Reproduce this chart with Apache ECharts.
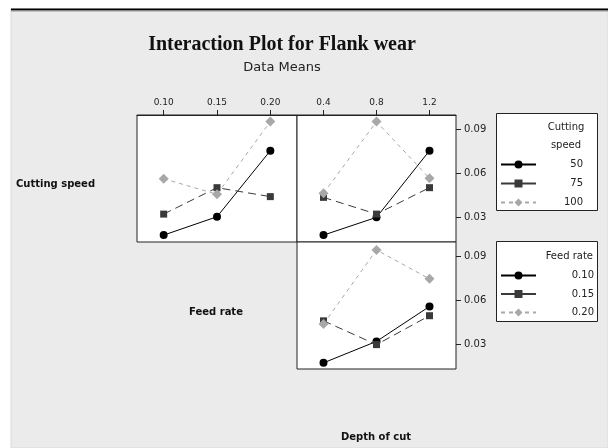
<!DOCTYPE html>
<html>
<head>
<meta charset="utf-8">
<script src="https://cdn.jsdelivr.net/npm/echarts@6/dist/echarts.min.js"></script>
<style>html,body{margin:0;padding:0;background:#fff;}#c{width:608px;height:448px;}</style>
</head>
<body>
<div id="c"></div>
<script>
var feedRates = ['0.10', '0.15', '0.20'];
var depths = ['0.4', '0.8', '1.2'];
var speeds = ['50', '75', '100'];
var yTicks = [0.03, 0.06, 0.09];

// Panel 1: Cutting speed lines vs Feed rate
var speedByFeed50 = [0.0177, 0.0302, 0.0752];
var speedByFeed75 = [0.0320, 0.0500, 0.0439];
var speedByFeed100 = [0.0561, 0.0455, 0.0950];
// Panel 2: Cutting speed lines vs Depth of cut
var speedByDepth50 = [0.0177, 0.0298, 0.0752];
var speedByDepth75 = [0.0434, 0.0320, 0.0500];
var speedByDepth100 = [0.0462, 0.0950, 0.0564];
// Panel 3: Feed rate lines vs Depth of cut
var feedByDepth010 = [0.0172, 0.0318, 0.0556];
var feedByDepth015 = [0.0458, 0.0296, 0.0493];
var feedByDepth020 = [0.0436, 0.0941, 0.0744];

var styles = [
  {symbol: 'circle', symbolSize: 8, color: '#000000', line: {type: 'solid', width: 1}},
  {symbol: 'rect', symbolSize: 7, color: '#3a3a3a', line: {type: [8, 5], width: 1}},
  {symbol: 'diamond', symbolSize: 10, color: '#a8a8a8', line: {type: [4, 4], width: 1}}
];

function mkSeries(name, data, idx, k) {
  var s = styles[k];
  return {
    type: 'line', name: name, data: data, xAxisIndex: idx, yAxisIndex: idx,
    symbol: s.symbol, symbolSize: s.symbolSize, showSymbol: true,
    itemStyle: {color: s.color, opacity: 1},
    lineStyle: {color: s.color, type: s.line.type, width: s.line.width},
    emphasis: {disabled: true}, animation: false, z: 2 + k
  };
}

var gridBase = {show: true, backgroundColor: '#ffffff', borderColor: '#222', borderWidth: 1, containLabel: false};

function xAx(idx, cats, showTop) {
  return {
    type: 'category', gridIndex: idx, data: cats, position: 'top', boundaryGap: true,
    axisLine: {show: showTop, lineStyle: {color: '#222'}},
    axisTick: {show: showTop, alignWithLabel: true, length: 5, lineStyle: {color: '#222'}},
    axisLabel: {show: showTop, fontSize: 9, margin: 8, fontFamily: 'DejaVu Sans', color: '#222'},
    splitLine: {show: false}
  };
}
function yAx(idx, showRight) {
  return {
    type: 'value', gridIndex: idx, position: 'right', min: 0.013, max: 0.0995,
    axisLine: {show: false},
    axisTick: {show: showRight, length: 5, customValues: yTicks, lineStyle: {color: '#222'}},
    axisLabel: {show: showRight, fontSize: 10, margin: 8, fontFamily: 'DejaVu Sans', color: '#222',
      customValues: yTicks, formatter: function (v) { return v.toFixed(2); }},
    splitLine: {show: false}
  };
}

var legendText = {fontFamily: 'DejaVu Sans', fontSize: 10, color: '#222'};
function legendData(names) {
  return [
    {name: names[0]},
    {name: names[1], lineStyle: {type: 'solid'}},
    {name: names[2]}
  ];
}

var option = {
  backgroundColor: '#ffffff',
  animation: false,
  grid: [
    Object.assign({left: 137, top: 115, width: 160, height: 127}, gridBase),
    Object.assign({left: 297, top: 115, width: 159, height: 127}, gridBase),
    Object.assign({left: 297, top: 242, width: 159, height: 127}, gridBase)
  ],
  xAxis: [xAx(0, feedRates, true), xAx(1, depths, true), xAx(2, depths, false)],
  yAxis: [yAx(0, false), yAx(1, true), yAx(2, true)],
  legend: [
    {
      data: legendData(speeds), orient: 'vertical', left: 500, top: 159.5, padding: 0,
      itemWidth: 35, itemHeight: 10, itemGap: 9, selectedMode: false,
      formatter: '{a|{name}}',
      textStyle: Object.assign({rich: {a: {width: 42, align: 'right', fontFamily: 'DejaVu Sans', fontSize: 10, color: '#222'}}}, legendText)
    },
    {
      data: legendData(feedRates), orient: 'vertical', left: 500, top: 270.5, padding: 0,
      itemWidth: 35, itemHeight: 10, itemGap: 8.5, selectedMode: false,
      formatter: '{a|{name}}',
      textStyle: Object.assign({rich: {a: {width: 53, align: 'right', fontFamily: 'DejaVu Sans', fontSize: 10, color: '#222'}}}, legendText)
    }
  ],
  graphic: [
    {type: 'rect', z: -10, silent: true, shape: {x: 11, y: 9, width: 597, height: 439}, style: {fill: '#ebebeb', stroke: '#dadada', lineWidth: 1}},
    {type: 'line', z: -9, silent: true, shape: {x1: 11, y1: 9.5, x2: 608, y2: 9.5}, style: {stroke: '#000', lineWidth: 2}},
    {type: 'line', z: -9, silent: true, shape: {x1: 11, y1: 11, x2: 608, y2: 11}, style: {stroke: '#999', lineWidth: 1}},
    {type: 'rect', z: 0, silent: true, shape: {x: 496.5, y: 113.5, width: 101, height: 97}, style: {fill: '#ffffff', stroke: '#222', lineWidth: 1}},
    {type: 'rect', z: 0, silent: true, shape: {x: 496.5, y: 241.5, width: 101, height: 80}, style: {fill: '#ffffff', stroke: '#222', lineWidth: 1}},
    {type: 'text', z: 5, silent: true, style: {text: 'Interaction Plot for Flank wear', x: 282, y: 45, textAlign: 'center', textVerticalAlign: 'middle', font: 'bold 20px "Liberation Serif"', fill: '#111'}},
    {type: 'text', z: 5, silent: true, style: {text: 'Data Means', x: 282, y: 68, textAlign: 'center', textVerticalAlign: 'middle', font: '13px "DejaVu Sans"', fill: '#222'}},
    {type: 'text', z: 5, silent: true, style: {text: 'Cutting', x: 566, y: 127, textAlign: 'center', textVerticalAlign: 'middle', font: '10px "DejaVu Sans"', fill: '#222'}},
    {type: 'text', z: 5, silent: true, style: {text: 'speed', x: 566, y: 145, textAlign: 'center', textVerticalAlign: 'middle', font: '10px "DejaVu Sans"', fill: '#222'}},
    {type: 'text', z: 5, silent: true, style: {text: 'Feed rate', x: 593, y: 256, textAlign: 'right', textVerticalAlign: 'middle', font: '10px "DejaVu Sans"', fill: '#222'}},
    {type: 'text', z: 5, silent: true, style: {text: 'Cutting speed', x: 16, y: 184, textAlign: 'left', textVerticalAlign: 'middle', font: 'bold 10px "DejaVu Sans"', fill: '#111'}},
    {type: 'text', z: 5, silent: true, style: {text: 'Feed rate', x: 216, y: 312, textAlign: 'center', textVerticalAlign: 'middle', font: 'bold 10px "DejaVu Sans"', fill: '#111'}},
    {type: 'text', z: 5, silent: true, style: {text: 'Depth of cut', x: 376, y: 437, textAlign: 'center', textVerticalAlign: 'middle', font: 'bold 10px "DejaVu Sans"', fill: '#111'}}
  ],
  series: [
    mkSeries(speeds[0], speedByFeed50, 0, 0),
    mkSeries(speeds[1], speedByFeed75, 0, 1),
    mkSeries(speeds[2], speedByFeed100, 0, 2),
    mkSeries(speeds[0], speedByDepth50, 1, 0),
    mkSeries(speeds[1], speedByDepth75, 1, 1),
    mkSeries(speeds[2], speedByDepth100, 1, 2),
    mkSeries(feedRates[0], feedByDepth010, 2, 0),
    mkSeries(feedRates[1], feedByDepth015, 2, 1),
    mkSeries(feedRates[2], feedByDepth020, 2, 2)
  ]
};

var chart = echarts.init(document.getElementById('c'), null, {renderer: 'canvas'});
chart.setOption(option);
</script>
</body>
</html>
